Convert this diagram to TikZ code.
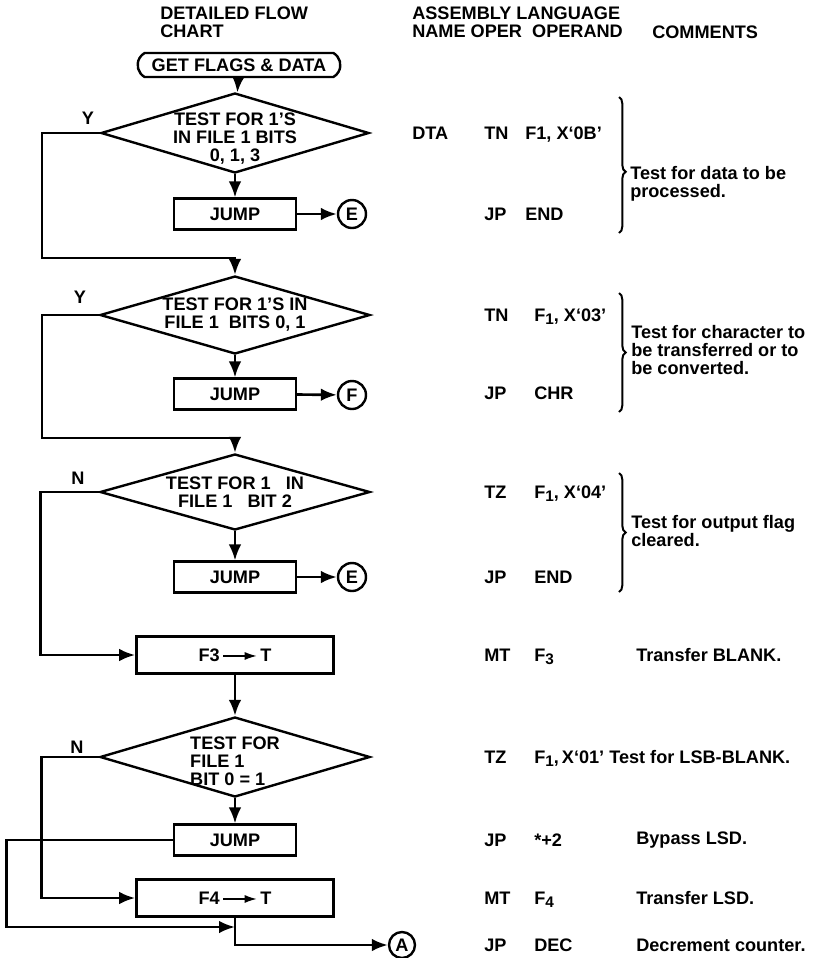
\documentclass[tikz,border=0pt]{standalone}
\usepackage{fontspec}
\setmainfont{Liberation Sans}
\usetikzlibrary{arrows.meta, positioning, shapes.geometric, shapes.misc, decorations.pathreplacing}

\newcommand{\lowdigit}[1]{\raisebox{-0.35ex}{\fontsize{11.5}{11.5}\selectfont #1}}
\newcommand{\asmrow}[4][37.5pt]{\makebox[54pt][l]{#2}\makebox[#1][l]{#3}#4}
\newcommand{\movearrow}{\tikz[baseline=-0.55ex]\draw[-{Latex[length=9pt,width=6pt]}, line width=1pt] (0,0) -- (25pt,0);}

\begin{document}
\begin{tikzpicture}[
    x=0.75pt,
    y=-0.75pt,
    >={Latex[length=12pt,width=9.5pt]},
    every node/.style={font=\fontsize{13.6}{13.5}\selectfont\bfseries},
    terminal/.style={rounded rectangle, rounded rectangle arc length=120, draw, line width=1.8pt, minimum width=154pt, minimum height=18pt, inner sep=1pt},
    decision/.style={diamond, draw, line width=1.8pt, minimum width=201pt, minimum height=60pt, inner sep=0pt},
    dtext/.style={align=center},
    jumpbox/.style={rectangle, draw, line width=1.8pt, minimum width=91.5pt, minimum height=23pt, inner sep=0pt},
    movebox/.style={rectangle, draw, line width=1.8pt, minimum width=148pt, minimum height=27.75pt, inner sep=0pt},
    connector/.style={circle, draw, line width=1.8pt, minimum size=21pt, inner sep=0pt},
    flag/.style={inner sep=0pt},
    code/.style={anchor=base west, inner sep=0pt},
    note/.style={anchor=west, align=left, inner sep=0pt},
    brace/.style={decorate, decoration={brace, amplitude=5pt}, line width=1.5pt},
    line/.style={->, line width=2pt}
]
\useasboundingbox (0,0) rectangle (822,958);

\node[note] (hdrFlow) at (160,22) {DETAILED FLOW\\CHART};
\node[note] (hdrAsm) at (412,22) {ASSEMBLY LANGUAGE\\NAME OPER\ \ OPERAND};
\node[note] (hdrCom) at (652,32) {COMMENTS};

\node[terminal] (start) at (239,65) {GET FLAGS \& DATA};
\node[decision, label={[dtext, yshift=-4pt]center:{TEST FOR 1’S\\IN FILE 1 BITS\\0, 1, 3}}] (test1) at (235,133) {};
\node[jumpbox] (jump1) at (235,214) {JUMP};
\node[connector] (conE1) at (352,214) {E};
\node[decision, minimum width=202.5pt, minimum height=58.5pt, label={[dtext]center:{TEST FOR 1’S IN\\FILE 1\ \ BITS 0, 1}}] (test2) at (235,315) {};
\node[jumpbox] (jump2) at (235,394) {JUMP};
\node[connector] (conF) at (352,395) {F};
\node[decision, minimum width=202.5pt, minimum height=57pt, label={[dtext]center:{TEST FOR 1\ \ \ IN\\FILE 1\ \ \ BIT 2}}] (test3) at (235,492) {};
\node[jumpbox] (jump3) at (235,577) {JUMP};
\node[connector] (conE2) at (352,577) {E};
\node[movebox] (load3) at (235,655) {F3\,\movearrow\,T};
\node[decision, minimum width=202.5pt, label={[align=left, yshift=-3pt]center:{TEST FOR\\FILE 1\\BIT 0 = 1}}] (test4) at (235,757) {};
\node[jumpbox] (jump4) at (235,840) {JUMP};
\node[movebox] (load4) at (235,898) {F4\,\movearrow\,T};
\node[connector, minimum size=19.5pt] (conA) at (402,945) {A};
\coordinate (merge) at (235,927);

\node[flag] (yes1) at (88,118) {Y};
\node[flag] (yes2) at (80,297) {Y};
\node[flag] (no3) at (78,478) {N};
\node[flag] (no4) at (77,747) {N};

\draw[line] (start) -- (test1);
\draw[line] (test1) -- (jump1);
\draw[line] (jump1) -- (conE1);
\draw[line] (test1.west) -| (42,258) -| (test2);
\draw[line] (test2) -- (jump2);
\draw[line] (jump2) -- (conF);
\draw[line] (test2.west) -| (42,438) -| (test3);
\draw[line] (test3) -- (jump3);
\draw[line] (jump3) -- (conE2);
\draw[line] (test3.west) -- ++(-58,0) |- (load3.west);
\draw[line] (load3) -- (test4);
\draw[line] (test4) -- (jump4);
\draw[line] (test4.west) -- ++(-57,0) |- (load4.west);
\draw[line] (jump4.west) -- ++(-166,0) |- (merge);
\draw[line] (load4) |- (conA);

\node[code] (row1) at (412,139) {\asmrow[30.75pt]{DTA}{TN}{F1, X‘0B’}};
\node[code] (row2) at (412,220) {\asmrow[30.75pt]{}{JP}{END}};
\node[code] (row3) at (412,321) {\asmrow{}{TN}{F\lowdigit{1}, X‘03’}};
\node[code] (row4) at (412,399) {\asmrow{}{JP}{CHR}};
\node[code] (row5) at (412,498) {\asmrow{}{TZ}{F\lowdigit{1}, X‘04’}};
\node[code] (row6) at (412,583) {\asmrow{}{JP}{END}};
\node[code] (row7) at (412,661) {\asmrow{}{MT}{F\lowdigit{3}}};
\node[code] (row8) at (412,763) {\asmrow{}{TZ}{F\lowdigit{1},\,X‘01’}};
\node[code] (row9) at (412,846) {\asmrow{}{JP}{*+2}};
\node[code] (row10) at (412,904) {\asmrow{}{MT}{F\lowdigit{4}}};
\node[code] (row11) at (412,951) {\asmrow{}{JP}{DEC}};

\draw[brace, decoration={aspect=0.55}] (619,97) -- (619,233);
\draw[brace] (619,293) -- (619,412);
\draw[brace] (619,473) -- (619,592);

\node[note] (note1) at (630,184) {Test for data to be\\processed.};
\node[note] (note2) at (631,350) {Test for character to\\be transferred or to\\be converted.};
\node[note] (note3) at (631,531) {Test for output flag\\cleared.};
\node[note] (note4) at (636,655) {Transfer BLANK.};
\node[note] (note5) at (609,757) {Test for LSB-BLANK.};
\node[note] (note6) at (636,840) {Bypass LSD.};
\node[note] (note7) at (636,898) {Transfer LSD.};
\node[note] (note8) at (636,945) {Decrement counter.};
\end{tikzpicture}
\end{document}
